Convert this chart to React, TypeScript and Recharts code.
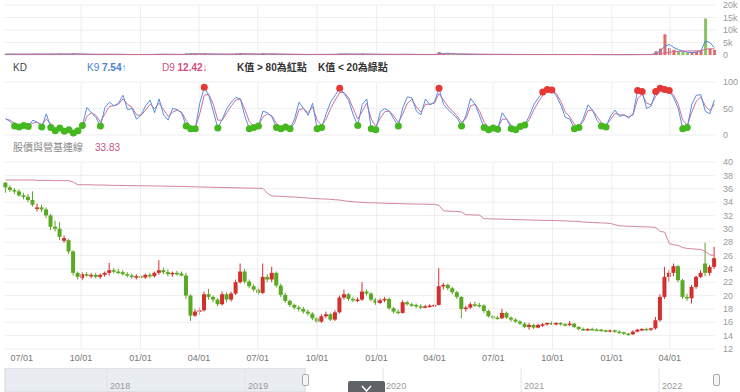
import { ComposedChart, Bar, Line, XAxis, YAxis, CartesianGrid, ReferenceLine, ReferenceArea, Cell } from "recharts";

const DAY = 86400000;
const firstWeek = Date.UTC(2019, 5, 6);
const xStart = Date.UTC(2019, 5, 5);
const xEnd = Date.UTC(2022, 5, 10);

const quarterTicks = [
  "2019-07-01", "2019-10-01", "2020-01-01", "2020-04-01", "2020-07-01", "2020-10-01",
  "2021-01-01", "2021-04-01", "2021-07-01", "2021-10-01", "2022-01-01", "2022-04-01",
].map((s) => Date.parse(s));

const volTicks = [0, 5000, 10000, 15000, 20000];
const kdTicks = [0, 50, 100];
const priceTicks = [12, 14, 16, 18, 20, 22, 24, 26, 28, 30, 32, 34, 36, 38, 40];

// weekly [open, high, low, close]
const candles: [number, number, number, number][] = [
  [36.9,37.0,35.4,36.2],[36.2,36.5,35.5,35.8],[35.8,36.1,35.2,35.6],[35.6,35.9,34.8,35.0],[35.0,35.4,34.4,34.8],[34.8,35.2,34.0,34.3],[34.3,35.6,33.3,33.6],[33.0,33.8,32.6,33.2],[33.2,33.6,32.5,32.9],[32.9,33.2,31.6,32.0],
  [32.0,32.2,29.8,30.3],[30.3,31.2,29.6,30.0],[30.0,31.0,28.3,28.8],[28.2,29.0,27.9,28.6],[28.3,28.5,26.2,26.6],[26.6,26.8,23.0,23.4],[23.4,23.6,22.4,22.8],[22.6,23.5,22.3,23.2],[23.2,23.5,22.8,23.0],[23.0,23.4,22.6,23.1],
  [23.1,23.4,22.6,22.8],[22.8,23.3,22.5,23.1],[23.1,23.6,22.8,23.4],[23.4,24.9,23.0,23.8],[23.8,24.1,23.3,23.6],[23.6,24.0,23.2,23.5],[23.5,23.8,23.0,23.2],[23.2,23.5,22.7,23.0],[23.0,23.3,22.5,22.8],[22.8,23.2,22.4,22.9],
  [22.9,23.1,22.5,22.7],[22.7,23.3,22.5,23.1],[23.1,23.4,22.6,22.9],[22.9,23.6,22.7,23.4],[23.4,25.3,23.1,23.8],[23.8,24.2,23.2,23.5],[23.5,23.9,22.9,23.2],[23.2,23.6,22.8,23.4],[23.4,23.7,23.0,23.3],[23.3,23.6,22.9,23.0],
  [23.0,23.4,19.5,20.0],[20.0,20.2,16.2,17.0],[17.0,18.0,16.8,17.6],[17.6,18.2,17.1,17.8],[17.8,20.6,17.6,20.2],[20.2,21.0,19.4,19.8],[19.8,20.0,19.0,19.4],[19.4,19.6,18.4,18.7],[18.7,20.6,18.5,20.2],[20.2,20.5,19.0,19.4],
  [19.4,20.6,19.1,20.3],[20.3,22.4,20.1,22.0],[22.0,24.8,21.8,23.6],[23.6,24.0,21.8,22.1],[22.1,22.4,21.1,21.4],[21.4,21.7,20.6,20.9],[20.9,21.2,20.1,20.4],[20.4,24.8,20.2,22.8],[22.8,23.2,22.0,22.4],[22.4,24.3,22.0,23.4],
  [23.4,23.6,21.2,21.5],[21.5,21.8,19.8,20.1],[20.1,20.4,18.9,19.2],[19.2,19.4,18.3,18.6],[18.6,18.8,17.9,18.2],[18.2,18.5,17.6,18.0],[18.0,18.3,17.3,17.6],[17.6,17.9,17.0,17.3],[17.3,17.5,16.3,16.6],[16.6,16.8,15.9,16.1],
  [16.1,17.2,15.9,16.9],[16.9,17.6,16.6,17.2],[17.2,17.4,16.2,16.4],[16.4,17.8,16.2,17.5],[17.5,20.0,17.3,19.7],[19.7,20.9,19.4,20.2],[20.2,20.4,19.2,19.5],[19.5,19.8,19.0,19.3],[19.3,19.7,19.0,19.4],[19.4,22.0,19.2,20.6],
  [20.6,20.9,20.0,20.3],[20.3,20.5,19.1,19.4],[19.4,19.6,18.6,18.9],[18.9,19.6,18.7,19.3],[19.3,19.8,19.0,19.5],[19.5,19.7,17.9,18.1],[18.1,18.3,17.3,17.6],[17.6,17.9,17.2,17.4],[17.4,19.3,17.3,19.0],[19.0,19.2,18.5,18.7],
  [18.7,18.9,18.3,18.6],[18.6,18.8,18.1,18.4],[18.4,18.7,18.0,18.3],[18.3,18.6,18.1,18.4],[18.4,18.7,18.2,18.5],[18.5,18.8,18.3,18.6],[18.6,24.1,18.5,21.4],[21.4,21.9,20.9,21.6],[21.6,21.8,20.8,21.1],[21.1,21.3,20.2,20.5],
  [20.5,20.7,19.5,19.8],[19.8,19.9,16.6,18.0],[18.0,18.5,17.6,18.2],[18.2,19.0,18.0,18.7],[18.7,19.1,18.3,18.6],[18.6,18.9,18.2,18.5],[18.5,18.7,17.4,17.7],[17.7,17.9,16.7,16.9],[16.9,17.1,16.4,16.7],[16.7,17.0,16.4,16.6],
  [16.6,18.0,16.5,17.4],[17.4,17.6,16.5,16.7],[16.7,16.9,16.1,16.4],[16.4,16.6,15.9,16.1],[16.1,16.3,15.6,15.8],[15.8,16.0,15.1,15.3],[15.3,15.9,14.9,15.6],[15.6,15.8,15.0,15.2],[15.2,15.8,15.1,15.6],[15.6,15.9,15.3,15.7],
  [15.7,16.0,15.5,15.9],[15.9,16.1,15.6,15.8],[15.8,16.0,15.5,15.9],[15.9,16.0,15.5,15.7],[15.7,15.9,15.4,15.6],[15.6,16.2,15.4,15.8],[15.8,15.9,15.1,15.3],[15.3,15.4,14.8,15.0],[15.0,15.2,14.7,14.9],[14.9,15.1,14.7,15.0],
  [15.0,15.2,14.8,14.9],[14.9,15.1,14.7,14.9],[14.9,15.0,14.6,14.8],[14.8,14.9,14.5,14.7],[14.7,14.9,14.5,14.8],[14.8,14.9,14.4,14.6],[14.6,14.8,14.3,14.5],[14.5,14.6,14.1,14.3],[14.3,14.4,14.0,14.2],[14.2,14.8,14.1,14.6],
  [14.6,15.0,14.5,14.9],[14.9,15.1,14.7,15.0],[15.0,15.2,14.8,14.9],[14.9,15.2,14.7,15.1],[15.1,16.8,14.9,16.3],[16.3,20.2,16.1,19.8],[19.8,24.3,19.5,22.8],[22.8,23.8,22.1,23.4],[23.4,24.8,22.9,24.4],[24.4,24.6,22.0,22.3],
  [22.3,22.5,19.5,19.8],[19.8,20.3,19.2,19.6],[19.6,21.6,18.8,21.3],[21.3,23.0,21.0,22.8],[22.8,23.8,22.6,23.4],[24.8,27.9,22.9,23.4],[23.4,24.6,23.0,24.3],[24.3,27.3,24.0,25.6],
];

const baseLine = [
  37.3,37.3,37.3,37.3,37.3,37.3,37.3,37.25,37.25,37.25,
  37.25,37.2,37.2,37.2,37.2,37.0,36.6,36.6,36.6,36.58,
  36.56,36.55,36.54,36.52,36.5,36.5,36.48,36.47,36.46,36.45,
  36.44,36.43,36.42,36.4,36.4,36.38,36.37,36.36,36.35,36.34,
  36.32,36.3,36.28,36.26,36.25,36.23,36.21,36.2,36.18,36.16,
  36.15,36.13,36.12,36.1,36.09,36.08,36.06,36.05,35.3,34.9,
  34.9,34.85,34.8,34.78,34.75,34.7,34.65,34.6,34.55,34.5,
  34.48,34.45,34.4,34.35,34.3,34.2,34.1,34.05,34.0,33.95,
  33.9,33.9,33.88,33.85,33.83,33.8,33.8,33.78,33.75,33.73,
  33.72,33.7,33.7,33.68,33.66,33.65,33.5,32.7,32.65,32.6,
  32.6,32.5,32.1,32.1,32.05,32.05,31.5,31.5,31.48,31.46,
  31.44,31.42,31.4,31.38,31.36,31.34,31.32,31.3,31.28,31.26,
  31.25,31.23,31.22,31.2,31.18,31.15,31.12,31.1,31.0,30.98,
  30.95,30.9,30.88,30.85,30.8,30.6,30.45,30.4,30.38,30.35,
  30.32,30.3,30.28,30.25,30.2,29.6,29.5,27.8,27.6,27.5,
  27.2,27.05,27.0,26.95,26.9,26.6,26.1,26.0,
];

const kLine = [
  31,25,17,15,18,16,28,24,15,40,
  14,8,13,7,10,4,8,18,52,42,
  33,17,52,62,55,60,75,48,50,30,
  38,55,66,42,68,38,28,50,48,41,
  17,12,12,60,90,75,45,13,30,50,
  62,71,68,35,12,14,17,45,42,34,
  14,12,15,12,30,62,50,37,60,12,
  14,40,62,75,88,78,65,38,18,58,
  68,12,10,44,50,45,30,17,52,72,
  70,45,38,68,57,62,88,58,48,40,
  32,17,38,69,58,36,14,10,13,11,
  42,30,12,10,16,19,36,57,70,81,
  86,85,74,56,33,30,12,14,32,57,
  47,28,17,15,36,47,35,38,32,40,
  84,82,50,55,82,88,86,84,70,50,
  12,14,58,75,76,45,40,66,
];

const dLine = [
  30,28,22,18,18,17,22,24,19,30,
  22,13,12,9,10,7,8,13,35,42,
  37,25,40,54,55,58,68,58,52,38,
  37,47,58,50,60,48,35,43,47,43,
  27,17,13,40,75,77,58,28,28,42,
  55,66,68,48,25,17,17,34,40,36,
  22,15,15,13,22,48,50,42,53,28,
  18,30,50,66,80,80,70,50,30,45,
  60,30,16,32,44,45,36,24,40,60,
  67,53,43,58,58,60,78,66,54,45,
  36,24,31,55,58,45,24,15,13,12,
  30,30,18,13,15,18,29,47,62,75,
  82,84,78,63,43,34,20,16,26,46,
  47,35,23,18,29,41,38,38,34,38,
  68,77,60,57,73,83,85,84,75,58,
  28,18,43,64,72,55,46,58,
];

const volume = [
  420,310,260,380,290,220,510,350,270,300,
  460,330,520,280,390,640,300,240,210,260,
  190,230,280,350,240,200,220,180,170,210,
  190,250,200,280,430,260,210,230,190,200,
  680,820,420,330,450,300,240,220,380,260,
  300,520,740,360,280,240,230,690,300,450,
  330,280,250,220,200,190,180,200,240,230,
  260,280,220,300,560,480,300,250,230,520,
  280,240,210,230,250,300,220,190,380,240,
  200,190,180,190,200,210,1200,520,380,300,
  260,450,300,280,240,220,260,230,200,190,
  320,220,190,180,200,230,240,190,200,210,
  220,200,190,200,180,260,210,190,180,170,
  160,170,160,150,160,150,160,170,180,200,
  220,210,190,230,1500,2600,8300,2800,2100,1500,
  1300,900,1100,1400,1900,14600,2600,2100,
];

const volShort = [
  350,330,300,310,290,280,330,340,320,310,
  350,360,400,380,360,420,400,350,300,260,
  230,230,240,270,260,240,230,210,200,200,
  200,210,220,230,280,290,260,240,220,210,
  300,420,480,460,430,400,320,280,300,290,
  300,350,450,480,450,400,300,380,400,420,
  380,330,290,260,230,210,200,200,210,220,
  230,250,250,260,340,400,400,350,300,350,
  330,300,260,240,230,240,240,230,260,260,
  240,220,200,190,190,200,420,600,700,550,
  400,360,330,300,280,260,250,240,230,220,
  240,240,220,210,200,200,210,210,200,200,
  210,210,200,200,200,210,210,200,190,180,
  170,170,160,160,160,155,155,160,165,175,
  190,200,200,210,500,1500,3500,4200,3000,2200,
  1600,1100,1000,1100,1500,5600,5000,3000,
];

const volLong = [
  330,330,320,320,315,310,315,320,320,315,
  320,330,345,345,350,360,360,350,330,310,
  290,270,260,255,250,245,235,225,215,210,
  205,205,210,215,225,235,240,240,235,230,
  260,300,340,360,380,390,380,360,340,320,
  310,320,340,360,370,370,350,360,370,380,
  370,350,330,310,290,270,250,235,225,220,
  220,225,230,240,260,280,300,310,310,320,
  320,310,300,290,275,260,250,245,240,240,
  235,230,225,220,215,210,270,320,360,380,
  390,380,360,340,310,290,270,255,245,235,
  235,230,225,220,215,210,210,210,208,206,
  205,205,204,203,202,202,202,200,198,195,
  190,185,180,176,172,168,165,162,162,164,
  170,176,180,185,260,420,880,1100,1300,1450,
  1550,1600,1620,1650,1700,2300,2450,2500,
];

// navigator (fractional years)
const navYears = [2018, 2019, 2020, 2021, 2022];
const navStart = 2017.26;
const navEnd = 2022.405;
const navSelStart = 2019.435;

const RED = "#d32f2f";
const GREEN = "#5aa823";
const K_BLUE = "#5a8de0";
const D_PINK = "#cc6f9e";
const BASE_PINK = "#d4849c";
const DOT_RED = "#e53935";
const DOT_GREEN = "#45b820";
const GRID = "#eeeeee";
const FONT = '"Liberation Sans", Arial, "Noto Sans CJK TC", sans-serif';

const rows = candles.map(([open, high, low, close], i) => ({
  date: firstWeek + i * 7 * DAY,
  open,
  high,
  low,
  close,
  range: [low, high],
  up: close > open,
  base: baseLine[i],
  k: kLine[i],
  d: dLine[i],
  vol: volume[i],
  volShort: volShort[i],
  volLong: volLong[i],
}));

const navRows = navYears.map((y) => ({ yr: y, v: 0 }));

const tickStyle = { fontSize: 9, fill: "#999" };
const fmtVol = (v: number) => (v === 0 ? "0" : `${v / 1000}k`);
const fmtQuarter = (t: number) => `${String(new Date(t).getUTCMonth() + 1).padStart(2, "0")}/01`;

const Candle = (props: any) => {
  const { x, y, width, height, payload } = props;
  if (!payload) return <g />;
  const top = Math.min(y, y + height);
  const h = Math.abs(height);
  const span = payload.high - payload.low || 1;
  const py = (v: number) => top + ((payload.high - v) / span) * h;
  const color = payload.close > payload.open ? RED : GREEN;
  const b1 = py(Math.max(payload.open, payload.close));
  const b2 = py(Math.min(payload.open, payload.close));
  const cx = x + width / 2;
  return (
    <g>
      <line x1={cx} x2={cx} y1={top} y2={top + h} stroke={color} strokeWidth={1} />
      <rect x={x} y={b1} width={width} height={Math.max(1.5, b2 - b1)} fill={color} />
    </g>
  );
};

const kDot = (props: any) => {
  const { cx, cy, value, index } = props;
  if (value > 80) return <circle key={index} cx={cx} cy={cy} r={3.5} fill={DOT_RED} />;
  if (value < 20) return <circle key={index} cx={cx} cy={cy} r={3.5} fill={DOT_GREEN} />;
  return <g key={index} />;
};

const quarterLines = quarterTicks.slice(1).map((t) => (
  <ReferenceLine key={t} x={t} stroke={GRID} />
));

const hdr = { position: "absolute" as const, fontSize: 10, lineHeight: "12px", whiteSpace: "nowrap" as const };

export default function App() {
  return (
    <div style={{ position: "absolute", left: 0, top: 0, width: 740, height: 392, overflow: "hidden", background: "#fff", fontFamily: FONT }}>
      {/* volume */}
      <div style={{ position: "absolute", left: 0, top: 0 }}>
        <ComposedChart width={740} height={62} data={rows} margin={{ top: 5, right: 0, bottom: 7, left: 5 }}>
          <CartesianGrid vertical={false} stroke={GRID} />
          {quarterLines}
          <XAxis dataKey="date" type="number" domain={[xStart, xEnd]} hide />
          <YAxis orientation="right" width={25} domain={[0, 20000]} ticks={volTicks} interval={0} tickFormatter={fmtVol} axisLine={false} tickLine={false} tick={tickStyle} />
          <Bar dataKey="vol" barSize={3} isAnimationActive={false}>
            {rows.map((r, i) => (
              <Cell key={i} fill={r.up ? RED : GREEN} fillOpacity={0.7} />
            ))}
          </Bar>
          <Line dataKey="volShort" stroke="#4f86d9" strokeWidth={1} dot={false} isAnimationActive={false} />
          <Line dataKey="volLong" stroke="#d36a8f" strokeWidth={1} dot={false} isAnimationActive={false} />
        </ComposedChart>
      </div>

      {/* KD header */}
      <span style={{ ...hdr, left: 13, top: 62, color: "#444" }}>KD</span>
      <span style={{ ...hdr, left: 87, top: 62, color: "#4a7fd4" }}>
        K9 <b>7.54↑</b>
      </span>
      <span style={{ ...hdr, left: 162, top: 62, color: "#cf4f7c" }}>
        D9 <b>12.42↓</b>
      </span>
      <span style={{ ...hdr, left: 237, top: 62, color: "#333", fontWeight: 600 }}>K值 &gt; 80為紅點</span>
      <span style={{ ...hdr, left: 318, top: 62, color: "#333", fontWeight: 600 }}>K值 &lt; 20為綠點</span>

      {/* KD */}
      <div style={{ position: "absolute", left: 0, top: 77 }}>
        <ComposedChart width={740} height={62} data={rows} margin={{ top: 5, right: 0, bottom: 4, left: 5 }}>
          <CartesianGrid vertical={false} stroke={GRID} />
          {quarterLines}
          <XAxis dataKey="date" type="number" domain={[xStart, xEnd]} hide />
          <YAxis orientation="right" width={25} domain={[0, 100]} ticks={kdTicks} interval={0} axisLine={false} tickLine={false} tick={tickStyle} />
          <Line dataKey="d" stroke={D_PINK} strokeWidth={1} dot={false} isAnimationActive={false} />
          <Line dataKey="k" stroke={K_BLUE} strokeWidth={1} dot={kDot} isAnimationActive={false} />
        </ComposedChart>
      </div>

      {/* price header */}
      <span style={{ ...hdr, left: 13, top: 142, color: "#888" }}>股價與營基連線</span>
      <span style={{ ...hdr, left: 95, top: 142, color: "#c8527e" }}>33.83</span>

      {/* price */}
      <div style={{ position: "absolute", left: 0, top: 152 }}>
        <ComposedChart width={740} height={215} data={rows} margin={{ top: 10, right: 0, bottom: 0, left: 5 }}>
          <CartesianGrid vertical={false} stroke={GRID} />
          {quarterLines}
          <XAxis
            dataKey="date"
            type="number"
            domain={[xStart, xEnd]}
            ticks={quarterTicks}
            interval={0}
            tickFormatter={fmtQuarter}
            axisLine={false}
            tickLine={false}
            tickMargin={0}
            height={18}
            tick={{ fontSize: 9, fill: "#777" }}
          />
          <YAxis orientation="right" width={25} domain={[12, 40]} ticks={priceTicks} interval={0} axisLine={false} tickLine={false} tick={tickStyle} />
          <Line dataKey="base" stroke={BASE_PINK} strokeWidth={1} dot={false} isAnimationActive={false} />
          <Bar dataKey="range" barSize={4} shape={Candle} isAnimationActive={false} />
        </ComposedChart>
      </div>

      {/* navigator */}
      <div style={{ position: "absolute", left: 0, top: 368 }}>
        <ComposedChart width={740} height={24} data={navRows} margin={{ top: 0, right: 25, bottom: 0, left: 5 }}>
          <XAxis dataKey="yr" type="number" domain={[navStart, navEnd]} hide />
          <YAxis hide domain={[0, 1]} />
          <ReferenceArea x1={navStart} x2={navSelStart} y1={0} y2={1} fill="#e9edf2" fillOpacity={1} stroke="#d3d8de" />
          {navYears.map((y) => (
            <ReferenceLine
              key={y}
              x={y}
              stroke="#dfe2e6"
              label={{ value: String(y), position: "insideBottomLeft", offset: 3, fontSize: 9, fill: "#999" }}
            />
          ))}
          <Line dataKey="v" stroke="none" dot={false} isAnimationActive={false} />
        </ComposedChart>
      </div>

      {/* navigator handles */}
      <div style={{ position: "absolute", left: 302, top: 374, width: 5, height: 10, border: "1px solid #aaa", borderRadius: 2, background: "#f5f5f5" }} />
      <div style={{ position: "absolute", left: 713, top: 374, width: 5, height: 10, border: "1px solid #aaa", borderRadius: 2, background: "#f5f5f5" }} />

      {/* scroll button */}
      <div style={{ position: "absolute", left: 348, top: 381, width: 37, height: 14, background: "#5f6368", borderRadius: 2 }}>
        <svg width={37} height={14}>
          <polyline points="14,5 18.5,10 23,5" fill="none" stroke="#fff" strokeWidth={1.5} />
        </svg>
      </div>
    </div>
  );
}
